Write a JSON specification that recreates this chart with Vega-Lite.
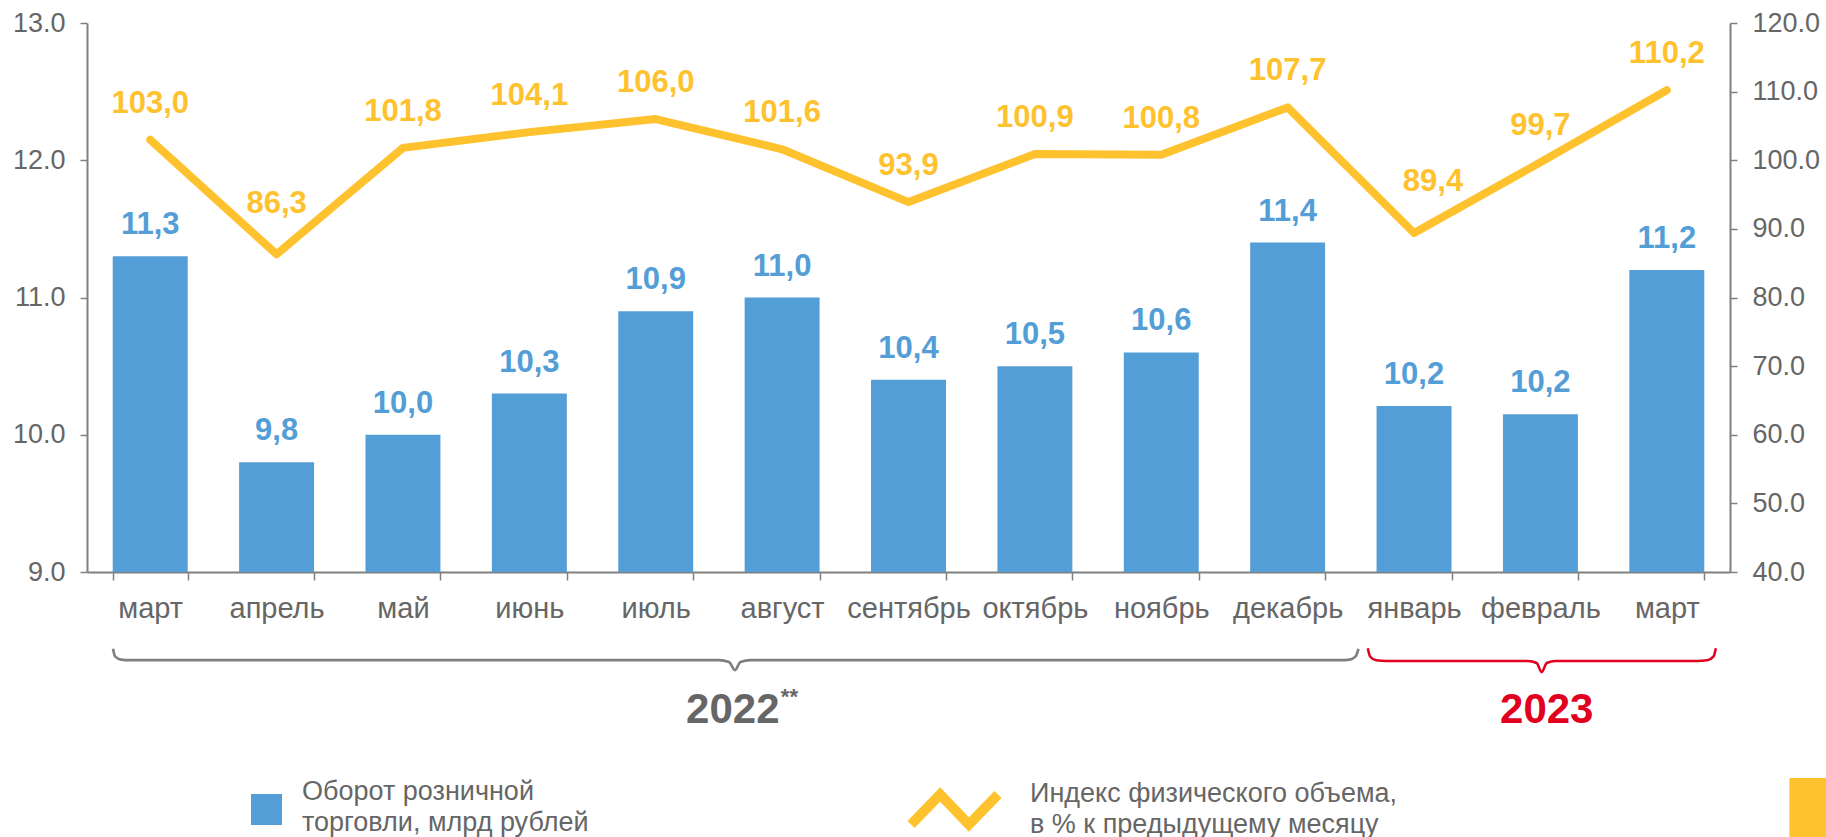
{
  "$schema": "https://vega.github.io/schema/vega-lite/v6.json",
  "autosize": {"type": "none"},
  "width": 1643,
  "height": 549,
  "padding": {"left": 87, "top": 23, "right": 96, "bottom": 265},
  "background": "white",
  "config": {
    "font": "Liberation Sans",
    "view": {"stroke": null},
    "axis": {
      "labelFont": "Liberation Sans",
      "labelColor": "#666666",
      "domainColor": "#808080",
      "tickColor": "#808080",
      "domainWidth": 2,
      "tickWidth": 1.5,
      "grid": false,
      "title": null
    }
  },
  "datasets": {
    "months": [
      {"month": "март 2022", "turnover": 11.3, "volume_index": 103.0},
      {"month": "апрель 2022", "turnover": 9.8, "volume_index": 86.3},
      {"month": "май 2022", "turnover": 10.0, "volume_index": 101.8},
      {"month": "июнь 2022", "turnover": 10.3, "volume_index": 104.1},
      {"month": "июль 2022", "turnover": 10.9, "volume_index": 106.0},
      {"month": "август 2022", "turnover": 11.0, "volume_index": 101.6},
      {"month": "сентябрь 2022", "turnover": 10.4, "volume_index": 93.9},
      {"month": "октябрь 2022", "turnover": 10.5, "volume_index": 100.9},
      {"month": "ноябрь 2022", "turnover": 10.6, "volume_index": 100.8},
      {"month": "декабрь 2022", "turnover": 11.4, "volume_index": 107.7},
      {"month": "январь 2023", "turnover": 10.21, "volume_index": 89.4},
      {"month": "февраль 2023", "turnover": 10.15, "volume_index": 99.7},
      {"month": "март 2023", "turnover": 11.2, "volume_index": 110.2}
    ],
    "braces": [
      {"year": "2022", "pos": 0.206, "level": 8.44},
      {"year": "2022", "pos": 0.222, "level": 8.385},
      {"year": "2022", "pos": 0.27, "level": 8.362},
      {"year": "2022", "pos": 0.34, "level": 8.358},
      {"year": "2022", "pos": 5.0, "level": 8.358},
      {"year": "2022", "pos": 5.08, "level": 8.345},
      {"year": "2022", "pos": 5.127, "level": 8.285},
      {"year": "2022", "pos": 5.17, "level": 8.345},
      {"year": "2022", "pos": 5.25, "level": 8.358},
      {"year": "2022", "pos": 9.92, "level": 8.358},
      {"year": "2022", "pos": 9.99, "level": 8.362},
      {"year": "2022", "pos": 10.038, "level": 8.385},
      {"year": "2022", "pos": 10.06, "level": 8.44},
      {"year": "2023", "pos": 10.134, "level": 8.445},
      {"year": "2023", "pos": 10.152, "level": 8.385},
      {"year": "2023", "pos": 10.2, "level": 8.357},
      {"year": "2023", "pos": 10.28, "level": 8.352},
      {"year": "2023", "pos": 11.4, "level": 8.352},
      {"year": "2023", "pos": 11.47, "level": 8.337},
      {"year": "2023", "pos": 11.51, "level": 8.27},
      {"year": "2023", "pos": 11.55, "level": 8.337},
      {"year": "2023", "pos": 11.62, "level": 8.352},
      {"year": "2023", "pos": 12.74, "level": 8.352},
      {"year": "2023", "pos": 12.82, "level": 8.357},
      {"year": "2023", "pos": 12.87, "level": 8.385},
      {"year": "2023", "pos": 12.888, "level": 8.445}
    ],
    "years": [
      {"year": "2022", "text": "2022", "pos": 5.11, "level": 7.898},
      {"year": "2022", "text": "**", "pos": 5.49, "level": 8.04},
      {"year": "2023", "text": "2023", "pos": 11.55, "level": 7.898}
    ],
    "logo": [
      {"pos": 13.47, "pos2": 13.8, "level": 7.5, "level2": 7.0}
    ]
  },
  "data": {"name": "months"},
  "layer": [
    {
      "layer": [
        {
          "mark": {"type": "bar"},
          "encoding": {
            "x": {
              "field": "month", "type": "nominal", "sort": null,
              "scale": {"type": "band", "paddingInner": 0.407, "paddingOuter": 0.2035},
              "axis": {
                "labelExpr": "isString(datum.value) ? split(datum.value, ' ')[0] : ''",
                "labelAngle": 0,
                "labelFontSize": 29,
                "labelOverlap": false,
                "tickBand": "extent",
                "tickSize": 8,
                "labelPadding": 14
              }
            },
            "y": {
              "field": "turnover", "type": "quantitative",
              "scale": {"domain": [9, 13], "zero": false, "nice": false},
              "axis": {"orient": "left", "values": [9, 10, 11, 12, 13], "format": ".1f", "labelFontSize": 27, "tickSize": 7, "labelPadding": 15}
            },
            "y2": {"datum": 9},
            "fill": {
              "datum": "Оборот розничной торговли, млрд рублей", "type": "nominal",
              "scale": {"range": ["#539ED6"]},
              "legend": {
                "orient": "none", "legendX": 164, "legendY": 771,
                "title": null, "padding": 0,
                "symbolType": "square", "symbolSize": 961, "symbolStrokeWidth": 0,
                "labelFontSize": 27, "labelColor": "#666666", "labelOffset": 20, "labelLimit": 600,
                "labelExpr": "['Оборот розничной', 'торговли, млрд рублей']",
                "encode": {"labels": {"update": {"lineHeight": {"value": 31}, "dy": {"value": -18}}}}
              }
            }
          }
        },
        {
          "mark": {
            "type": "text", "fontWeight": "bold", "fontSize": 31, "color": "#539ED6",
            "baseline": "middle", "dy": -31,
            "text": {"expr": "replace(format(datum.turnover, '.1f'), '.', ',')"}
          },
          "encoding": {
            "x": {"field": "month", "type": "nominal", "sort": null, "bandPosition": 0.5},
            "y": {"field": "turnover", "type": "quantitative"}
          }
        }
      ]
    },
    {
      "encoding": {
        "x": {
          "field": "month", "type": "nominal", "sort": null, "bandPosition": 0.5,
          "scale": {"type": "band", "paddingInner": 0.407, "paddingOuter": 0.2035},
          "axis": null
        },
        "y": {
          "field": "volume_index", "type": "quantitative",
          "scale": {"domain": [40, 120], "zero": false, "nice": false},
          "axis": {"orient": "right", "values": [40, 50, 60, 70, 80, 90, 100, 110, 120], "format": ".1f", "labelFontSize": 27, "tickSize": 7, "labelPadding": 15}
        }
      },
      "layer": [
        {
          "mark": {"type": "line", "strokeWidth": 8, "strokeCap": "round", "strokeJoin": "round"},
          "encoding": {
            "stroke": {
              "datum": "Индекс физического объема, в % к предыдущему месяцу", "type": "nominal",
              "scale": {"range": ["#FFC22F"]},
              "legend": {
                "orient": "none", "legendX": 819, "legendY": 738,
                "title": null, "padding": 0,
                "symbolType": "M -1 0.345 L -0.33 -0.345 L 0.33 0.345 L 1 -0.345",
                "symbolSize": 7569, "symbolStrokeWidth": 10, "symbolFillColor": "transparent",
                "labelFontSize": 27, "labelColor": "#666666", "labelOffset": 27, "labelLimit": 600,
                "labelExpr": "['Индекс физического объема,', 'в % к предыдущему месяцу']",
                "encode": {"labels": {"update": {"lineHeight": {"value": 31}, "dy": {"value": -16}}}}
              }
            }
          }
        },
        {
          "transform": [{"filter": "datum.month != 'апрель 2022' && datum.month != 'январь 2023'"}],
          "mark": {
            "type": "text", "fontWeight": "bold", "fontSize": 31, "color": "#FFC22F",
            "baseline": "middle", "dy": -36,
            "text": {"expr": "replace(format(datum.volume_index, '.1f'), '.', ',')"}
          }
        },
        {
          "transform": [{"filter": "datum.month == 'апрель 2022'"}],
          "mark": {
            "type": "text", "fontWeight": "bold", "fontSize": 31, "color": "#FFC22F",
            "baseline": "middle", "dy": -50,
            "text": {"expr": "replace(format(datum.volume_index, '.1f'), '.', ',')"}
          }
        },
        {
          "transform": [{"filter": "datum.month == 'январь 2023'"}],
          "mark": {
            "type": "text", "fontWeight": "bold", "fontSize": 31, "color": "#FFC22F",
            "baseline": "middle", "dy": -51, "dx": 19,
            "text": {"expr": "replace(format(datum.volume_index, '.1f'), '.', ',')"}
          }
        }
      ]
    },
    {
      "encoding": {
        "x": {"field": "pos", "type": "quantitative", "scale": {"domain": [0, 13], "nice": false, "zero": false}, "axis": null},
        "y": {"field": "level", "type": "quantitative", "scale": {"domain": [9, 13], "nice": false, "zero": false}, "axis": null}
      },
      "layer": [
        {
          "data": {"name": "braces"},
          "transform": [{"filter": "datum.year == '2022'"}],
          "mark": {"type": "line", "interpolate": "monotone", "stroke": "#7F7F7F", "strokeWidth": 2.7, "clip": false}
        },
        {
          "data": {"name": "braces"},
          "transform": [{"filter": "datum.year == '2023'"}],
          "mark": {"type": "line", "interpolate": "monotone", "stroke": "#E2001F", "strokeWidth": 2.5, "clip": false}
        },
        {
          "data": {"name": "years"},
          "transform": [{"filter": "datum.text == '2022'"}],
          "mark": {"type": "text", "fontWeight": "bold", "fontSize": 42, "color": "#666666", "align": "center", "baseline": "alphabetic"},
          "encoding": {"text": {"field": "text"}}
        },
        {
          "data": {"name": "years"},
          "transform": [{"filter": "datum.text == '**'"}],
          "mark": {"type": "text", "fontWeight": "bold", "fontSize": 22, "color": "#666666", "align": "left", "baseline": "alphabetic"},
          "encoding": {"text": {"field": "text"}}
        },
        {
          "data": {"name": "years"},
          "transform": [{"filter": "datum.text == '2023'"}],
          "mark": {"type": "text", "fontWeight": "bold", "fontSize": 42, "color": "#E2001F", "align": "center", "baseline": "alphabetic"},
          "encoding": {"text": {"field": "text"}}
        },
        {
          "data": {"name": "logo"},
          "mark": {"type": "rect", "color": "#FFC22F", "clip": false},
          "encoding": {
            "x2": {"field": "pos2"},
            "y2": {"field": "level2"}
          }
        }
      ]
    }
  ],
  "resolve": {"scale": {"x": "independent", "y": "independent"}}
}
